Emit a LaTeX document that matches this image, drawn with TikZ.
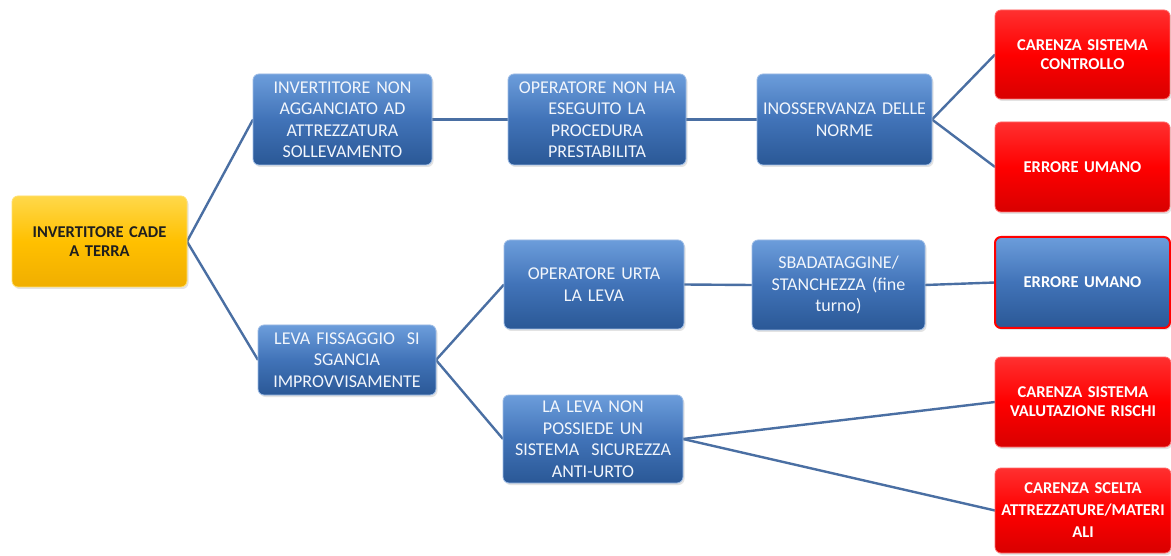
\documentclass[tikz,border=0pt]{standalone}
\usepackage{fontspec}
\setmainfont{Carlito}
\usetikzlibrary{shadows,backgrounds}

% palette
\definecolor{bluetop}{HTML}{6C9DDB}
\definecolor{bluemid}{HTML}{4173B8}
\definecolor{bluebot}{HTML}{2A5896}
\definecolor{blueedge}{HTML}{9DBCE6}
\definecolor{redtop}{HTML}{FF3030}
\definecolor{redmid}{HTML}{FF0000}
\definecolor{redbot}{HTML}{D80000}
\definecolor{rededge}{HTML}{FF6A6A}
\definecolor{yeltop}{HTML}{FFD84A}
\definecolor{yelmid}{HTML}{FFC000}
\definecolor{yelbot}{HTML}{F0AE00}
\definecolor{yeledge}{HTML}{FFE070}
\definecolor{linkblue}{HTML}{4A6FA3}
\definecolor{ink}{HTML}{1E1E1E}
\definecolor{paleink}{HTML}{F2F6FC}

% tight, fixed word spacing for the box labels
\newcommand\tightspace{\fontdimen2\font=0.17em\fontdimen3\font=0pt\fontdimen4\font=0pt}

\tikzset{
  box/.style={rounded corners=6pt, inner sep=2pt, outer sep=0pt,
    align=center, anchor=north west, line width=0.8pt,
    drop shadow={opacity=0.22, shadow xshift=1.5pt, shadow yshift=-2pt}},
  bluebox/.style={box, top color=bluetop, bottom color=bluebot,
    middle color=bluemid, draw=blueedge, text=paleink,
    font=\fontsize{18}{21.5}\selectfont\tightspace},
  redbox/.style={box, top color=redtop, bottom color=redbot,
    middle color=redmid, draw=rededge, text=white,
    font=\fontsize{16.5}{19}\selectfont\bfseries\tightspace},
  alertbox/.style={bluebox, draw=redmid, line width=2pt, text=white,
    font=\fontsize{16.5}{19}\selectfont\bfseries\tightspace},
  rootbox/.style={box, top color=yeltop, bottom color=yelbot,
    middle color=yelmid, draw=yeledge, text=ink,
    font=\fontsize{16.5}{19}\selectfont\bfseries\tightspace},
  link/.style={draw=linkblue, line width=2.4pt},
}

\begin{document}
\begin{tikzpicture}[x=1pt, y=-1pt]
\useasboundingbox (0,0) rectangle (1171,556);

% root
\node[rootbox, minimum width=175pt, minimum height=91pt, text width=168pt]
  (root) at (12,196) {INVERTITORE CADE\\A TERRA};

% upper branch
\node[bluebox, minimum width=179pt, minimum height=91pt, text width=174pt]
  (b1) at (253,74) {INVERTITORE NON\\AGGANCIATO AD\\ATTREZZATURA\\SOLLEVAMENTO};
\node[bluebox, minimum width=178pt, minimum height=91pt, text width=174pt]
  (b2) at (508,74) {OPERATORE NON HA\\ESEGUITO LA\\PROCEDURA\\PRESTABILITA};
\node[bluebox, minimum width=175pt, minimum height=91pt, text width=171pt]
  (b3) at (757,74) {INOSSERVANZA DELLE\\NORME};
\node[redbox, minimum width=175pt, minimum height=89pt, text width=171pt]
  (r1) at (995,10) {CARENZA SISTEMA\\CONTROLLO};
\node[redbox, minimum width=175pt, minimum height=90pt, text width=171pt]
  (r2) at (995,122) {ERRORE UMANO};

% lower branch
\node[bluebox, minimum width=177pt, minimum height=70pt, text width=174pt]
  (l1) at (258,325) {LEVA FISSAGGIO\ \ SI\\SGANCIA\\IMPROVVISAMENTE};
\node[bluebox, minimum width=180pt, minimum height=89pt, text width=174pt]
  (o1) at (504,240) {OPERATORE URTA\\LA LEVA};
\node[bluebox, minimum width=173pt, minimum height=90pt, text width=169pt]
  (s1) at (752,240) {SBADATAGGINE/\\STANCHEZZA (fine\\turno)};
\node[alertbox, minimum width=175pt, minimum height=91pt, text width=169pt]
  (e1) at (995,237) {ERRORE UMANO};
\node[bluebox, minimum width=180pt, minimum height=88pt, text width=174pt]
  (ll) at (503,395) {LA LEVA NON\\POSSIEDE UN\\SISTEMA\ \ SICUREZZA\\ANTI-URTO};
\node[redbox, minimum width=175pt, minimum height=90pt, text width=172pt]
  (r3) at (995,357) {CARENZA SISTEMA\\VALUTAZIONE RISCHI};
\node[redbox, minimum width=175pt, minimum height=85pt, text width=172pt]
  (r4) at (995,468) {CARENZA SCELTA\\[3pt]ATTREZZATURE/MATERI\\[3pt]ALI};

% white ground and connectors, behind the boxes
\begin{scope}[on background layer]
  \fill[white] (0,0) rectangle (1171,556);
  \draw[link] (root.east) -- (b1.west);
  \draw[link] (root.east) -- (l1.west);
  \draw[link] (b1.east) -- (b2.west);
  \draw[link] (b2.east) -- (b3.west);
  \draw[link] (b3.east) -- (r1.west);
  \draw[link] (b3.east) -- (r2.west);
  \draw[link] (l1.east) -- (o1.west);
  \draw[link] (l1.east) -- (ll.west);
  \draw[link] (o1.east) -- (s1.west);
  \draw[link] (s1.east) -- (e1.west);
  \draw[link] (ll.east) -- (r3.west);
  \draw[link] (ll.east) -- (r4.west);
\end{scope}
\end{tikzpicture}
\end{document}
